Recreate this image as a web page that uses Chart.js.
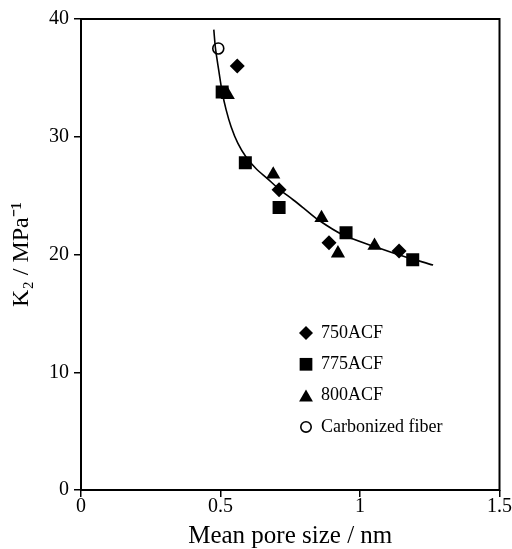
<!DOCTYPE html>
<html>
<head>
<meta charset="utf-8">
<script src="https://cdn.jsdelivr.net/npm/chart.js@4.4.1/dist/chart.umd.min.js"></script>
<style>
  html, body { margin: 0; padding: 0; background: #fff; }
  #wrap { width: 512px; height: 549px; position: relative; }
</style>
</head>
<body>
<div id="wrap"><canvas id="k2Chart"></canvas></div>
<script>
// ---------- data ----------
const xTicks = [0, 0.5, 1, 1.5];
const yTicks = [0, 10, 20, 30, 40];

const acf750 = [
    { x: 0.560, y: 36.0 }, { x: 0.710, y: 25.5 }, { x: 0.889, y: 21.0 }, { x: 1.140, y: 20.3 }
];
const acf775 = [
    { x: 0.506, y: 33.8 }, { x: 0.589, y: 27.8 }, { x: 0.710, y: 24.0 }, { x: 0.950, y: 21.85 }, { x: 1.189, y: 19.55 }
];
const acf800 = [
    { x: 0.526, y: 33.55 }, { x: 0.689, y: 26.8 }, { x: 0.862, y: 23.1 }, { x: 0.921, y: 20.1 }, { x: 1.052, y: 20.75 }
];
const carbonized = [
    { x: 0.492, y: 37.5 }
];
// fitted curve drawn in the figure
const fitX = [0.476, 0.482, 0.494, 0.506, 0.520, 0.538, 0.562, 0.591, 0.627, 0.668, 0.710, 0.760, 0.800, 0.850, 0.936, 1.055, 1.138, 1.262];
const fitY = [39.1, 37.5, 35.6, 33.8, 32.3, 30.85, 29.45, 28.3, 27.3, 26.45, 25.55, 24.65, 23.9, 22.95, 21.7, 20.65, 19.98, 19.1];

const serif = "'Liberation Serif', 'Times New Roman', serif";

// frame around the plot area
const framePlugin = {
    id: "frame",
    beforeDatasetsDraw(chart) {
        const a = chart.chartArea, ctx = chart.ctx;
        ctx.save();
        ctx.strokeStyle = "#000";
        ctx.lineWidth = 2;
        ctx.strokeRect(a.left, a.top, a.right - a.left, a.bottom - a.top);
        ctx.restore();
    }
};

// legend inside the plot
const insideLegend = {
    id: "insideLegend",
    afterDraw(chart) {
        const ctx = chart.ctx;
        const x0 = 306, y0 = 333, step = 31.3;
        let row = 0;
        chart.data.datasets.forEach((ds) => {
            if (ds.isFit) return;
            const y = y0 + row * step;
            ctx.save();
            ctx.fillStyle = ds.backgroundColor;
            ctx.strokeStyle = ds.borderColor;
            ctx.lineWidth = ds.borderWidth || 0;
            Chart.helpers.drawPoint(ctx, {
                pointStyle: ds.pointStyle,
                radius: ds.legendRadius,
                rotation: 0,
                borderWidth: ds.borderWidth || 0
            }, x0, ds.pointStyle === "triangle" ? y + 2 : y);
            ctx.fillStyle = "#000";
            ctx.font = "18px " + serif;
            ctx.textBaseline = "middle";
            ctx.textAlign = "left";
            ctx.fillText(ds.label, 321, y);
            ctx.restore();
            row++;
        });
    }
};

new Chart(document.getElementById("k2Chart"), {
    type: "scatter",
    data: {
        datasets: [
            {
                label: "fit",
                isFit: true,
                type: "line",
                data: fitX.map((x, i) => ({ x: x, y: fitY[i] })),
                borderColor: "#000",
                borderWidth: 1.6,
                pointRadius: 0,
                tension: 0.3,
                fill: false
            },
            {
                label: "750ACF",
                data: acf750,
                pointStyle: "rectRot",
                pointRadius: 7.5,
                legendRadius: 7,
                backgroundColor: "#000",
                borderColor: "#000",
                borderWidth: 0
            },
            {
                label: "775ACF",
                data: acf775,
                pointStyle: "rect",
                pointRadius: 9.2,
                legendRadius: 9,
                backgroundColor: "#000",
                borderColor: "#000",
                borderWidth: 0
            },
            {
                label: "800ACF",
                data: acf800,
                pointStyle: "triangle",
                pointRadius: 8.2,
                legendRadius: 8,
                backgroundColor: "#000",
                borderColor: "#000",
                borderWidth: 0
            },
            {
                label: "Carbonized fiber",
                data: carbonized,
                pointStyle: "circle",
                pointRadius: 5.5,
                legendRadius: 5.2,
                backgroundColor: "rgba(0,0,0,0)",
                borderColor: "#000",
                borderWidth: 1.6
            }
        ]
    },
    options: {
        responsive: true,
        maintainAspectRatio: false,
        animation: false,
        layout: { padding: { top: 19, right: 10, left: 0, bottom: 0 } },
        plugins: {
            legend: { display: false },
            tooltip: { enabled: false }
        },
        scales: {
            x: {
                type: "linear",
                min: 0,
                max: 1.5,
                afterBuildTicks: (s) => { s.ticks = xTicks.map(v => ({ value: v })); },
                afterFit: (s) => { s.height = 59; },
                grid: { drawOnChartArea: false, color: "#000", lineWidth: 1.5, tickLength: 7 },
                border: { display: false },
                ticks: {
                    color: "#000",
                    padding: 0,
                    font: { family: serif, size: 20, lineHeight: 1 },
                    callback: (v) => String(v)
                },
                title: {
                    display: true,
                    text: "Mean pore size / nm",
                    color: "#000",
                    font: { family: serif, size: 25, lineHeight: 1 },
                    padding: { top: 0, bottom: 0 }
                }
            },
            y: {
                type: "linear",
                min: 0,
                max: 40,
                afterBuildTicks: (s) => { s.ticks = yTicks.map(v => ({ value: v })); },
                afterFit: (s) => { s.width = 81; },
                grid: { drawOnChartArea: false, color: "#000", lineWidth: 1.5, tickLength: 7 },
                border: { display: false },
                ticks: {
                    color: "#000",
                    padding: 5,
                    font: { family: serif, size: 20, lineHeight: 1 },
                    callback: (v) => String(v)
                },
                title: {
                    display: true,
                    text: "K\u2082 / MPa\u207B\u00B9",
                    color: "#000",
                    font: { family: serif, size: 24, lineHeight: 1 },
                    padding: { top: 10, bottom: 0 }
                }
            }
        }
    },
    plugins: [framePlugin, insideLegend]
});
</script>
</body>
</html>
